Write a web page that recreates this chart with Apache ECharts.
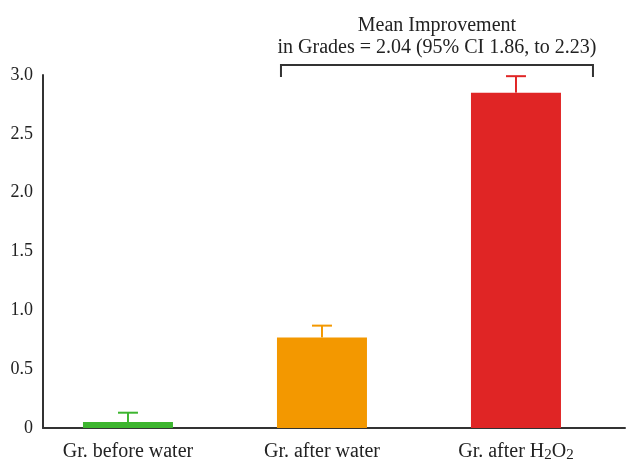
<!DOCTYPE html>
<html><head><meta charset="utf-8">
<script src="https://cdn.jsdelivr.net/npm/echarts@6/dist/echarts.min.js"></script>
<style>html,body{margin:0;padding:0;background:#fff}#c{width:626px;height:463px}</style>
</head><body><div id="c"></div>
<script>
var categories = ['Gr. before water', 'Gr. after water', 'Gr. after H2O2'];
var means = [0.05, 0.77, 2.85];
var upperErr = [0.13, 0.87, 2.99];
var barColors = ['#3db52f', '#f39800', '#e02525'];
var yTicks = [0, 0.5, 1.0, 1.5, 2.0, 2.5, 3.0];
var annotationLines = ['Mean Improvement', 'in Grades = 2.04 (95% CI 1.86, to 2.23)'];

var FONT = '"Liberation Serif", "Times New Roman", serif';
var chart = echarts.init(document.getElementById('c'));
var positions = categories.map(function (c, i) { return i; });
chart.setOption({
  animation: false,
  grid: {left: 43, right: 1, top: 75, bottom: 35},
  xAxis: {
    type: 'value', min: -0.438, max: 2.562,
    axisLine: {show: true, onZero: false, lineStyle: {color: '#333', width: 2}},
    axisTick: {show: false},
    splitLine: {show: false},
    axisLabel: {
      customValues: positions,
      margin: 13, color: '#222', fontFamily: FONT, fontSize: 20,
      formatter: function (v) {
        var name = categories[Math.round(v)];
        return name === 'Gr. after H2O2' ? '{n|Gr. after H}{s|2}{n|O}{s|2}' : '{n|' + name + '}';
      },
      rich: {
        n: {fontFamily: FONT, fontSize: 20, color: '#222', lineHeight: 22},
        s: {fontFamily: FONT, fontSize: 15, color: '#222', lineHeight: 22, verticalAlign: 'bottom', padding: [6, 0, 0, 0]}
      }
    }
  },
  yAxis: {
    type: 'value', min: 0, max: 3, interval: 0.5,
    axisLine: {show: true, onZero: false, lineStyle: {color: '#333', width: 2}},
    axisTick: {show: false},
    splitLine: {show: false},
    axisLabel: {
      margin: 10, color: '#222', fontFamily: FONT, fontSize: 18,
      formatter: function (v) { return v === 0 ? '0' : v.toFixed(1); }
    }
  },
  series: [{
    type: 'bar', barWidth: 90,
    data: means.map(function (v, i) { return {value: [positions[i], v], itemStyle: {color: barColors[i]}}; })
  }, {
    type: 'custom',
    data: upperErr.map(function (u, i) { return [positions[i], means[i], u]; }),
    renderItem: function (params, api) {
      var i = api.value(0);
      var lo = api.coord([i, api.value(1)]);
      var hi = api.coord([i, api.value(2)]);
      var col = barColors[params.dataIndex];
      var half = 10;
      return {type: 'group', children: [
        {type: 'line', shape: {x1: lo[0], y1: lo[1], x2: hi[0], y2: hi[1]}, style: {stroke: col, lineWidth: 2}},
        {type: 'line', shape: {x1: hi[0] - half, y1: hi[1], x2: hi[0] + half, y2: hi[1]}, style: {stroke: col, lineWidth: 2}}
      ]};
    },
    z: 3
  }]
});

// Annotation bracket spanning from the water bar to beyond the H2O2 bar
var left = chart.convertToPixel({xAxisIndex: 0}, 1) - 41;
var right = chart.convertToPixel({xAxisIndex: 0}, 2) + 77;
var yb = 65;
var cx = (left + right) / 2;
chart.setOption({
  graphic: [
    {type: 'polyline', shape: {points: [[left, yb + 12], [left, yb], [right, yb], [right, yb + 12]]}, style: {stroke: '#333', lineWidth: 2, fill: null}},
    {type: 'text', x: cx, y: 26, style: {text: annotationLines[0], font: '20px ' + FONT, fill: '#222', align: 'center', verticalAlign: 'middle'}},
    {type: 'text', x: cx, y: 48, style: {text: annotationLines[1], font: '20px ' + FONT, fill: '#222', align: 'center', verticalAlign: 'middle'}}
  ]
});
</script></body></html>
